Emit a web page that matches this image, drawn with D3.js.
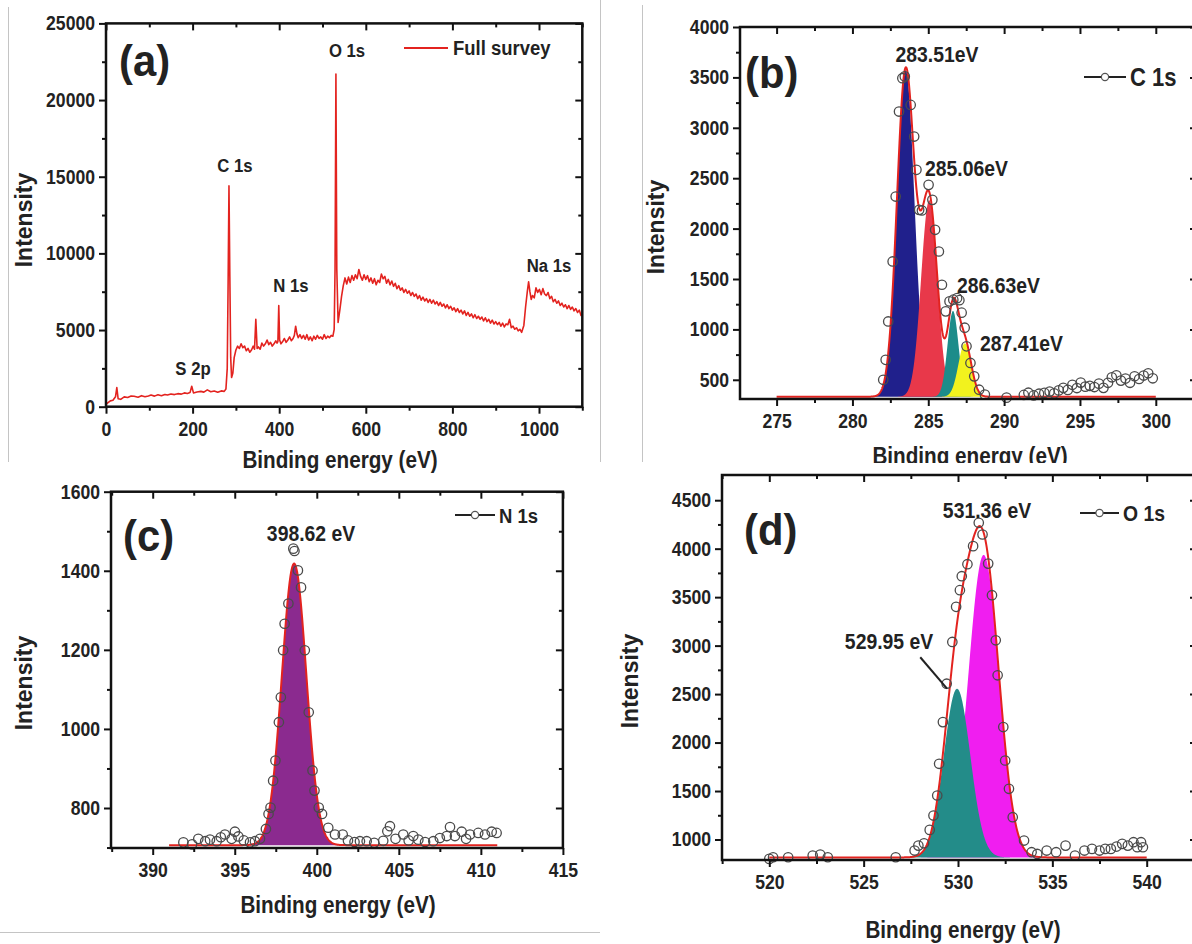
<!DOCTYPE html>
<html>
<head>
<meta charset="utf-8">
<script src="https://cdn.jsdelivr.net/npm/d3@7"></script>
<style>
  html, body { margin: 0; padding: 0; background: #fff; }
  svg { display: block; }
</style>
</head>
<body>
<svg id="fig" width="1192" height="944"></svg>
<script>
// ---------------- (a) full XPS survey ----------------
const surveyEnergy = [0, 4, 10, 16, 22, 25, 28, 34, 42, 50, 58, 65, 74, 82, 90, 98, 104, 112, 120, 128, 136, 142, 150, 158, 166, 174, 181, 188, 194, 198, 202, 210, 219, 226, 234, 242, 250, 258, 266, 273, 277, 280, 282, 284, 286, 288, 290, 293,
  296, 300, 304, 308, 312, 316, 320, 324, 328, 332, 336, 340, 343, 346, 349, 352, 356, 360, 364, 368, 372, 376, 380, 384, 388, 392, 395, 397, 399, 401, 404, 408, 412, 416, 420, 424, 428, 432, 435, 438, 441, 444, 448, 452, 456, 460, 464, 468, 472, 476, 480, 484, 488, 492, 496, 500, 504, 508, 512, 516, 520, 524, 527, 529, 531, 533, 536,
  540, 544, 548, 552, 556, 560, 564, 568, 572, 576, 580, 584, 588, 592, 596, 600, 604, 608, 612, 616, 620, 624, 628, 632, 636, 640, 644, 648, 652, 656, 660, 664, 668, 672, 676, 680, 684, 688, 692, 696, 700, 704, 708, 712, 716, 720, 724, 728, 732, 736, 740, 744, 748, 752, 756, 760, 764, 768, 772, 776, 780, 784, 788, 792, 796, 800, 804, 808, 812, 816, 820, 824, 828, 832, 836, 840, 844, 848, 852, 856, 860, 864, 868, 872, 876, 880, 884, 888, 892, 896, 900, 904, 908, 912, 916, 920, 924, 928, 932, 936, 940, 944, 948, 952, 956, 960,
  965, 969, 973, 976, 979, 982, 985, 989, 993, 997, 1001, 1005, 1009, 1013, 1017, 1021, 1025, 1029, 1033, 1037, 1041, 1045, 1049, 1053, 1057, 1061, 1065, 1069, 1073, 1077, 1081, 1085, 1089, 1093, 1097, 1100];
const surveyCounts = [150, 250, 380, 420, 650, 1250, 520, 480, 640, 600, 700, 680, 620, 720, 650, 700, 760, 690, 780, 720, 800, 760, 830, 790, 850, 820, 900, 860, 920, 1330, 900, 960, 1000, 950, 1100, 980, 1020, 940, 1030, 1000, 1150, 2500, 8000, 14400, 8500, 3200, 1900, 2200,
  3200, 3700, 3950, 3800, 4100, 3850, 3950, 3650, 3800, 3550, 3700, 3950, 3750, 5700, 3800, 3900, 3750, 4150, 3950, 4100, 4350, 4050, 4200, 3950, 4100, 4300, 4150, 4250, 6600, 4350, 4100, 4250, 4450, 4200, 4350, 4550, 4300, 4450, 4650, 5250, 4750, 4500, 4700, 4450, 4650, 4400, 4700, 4350, 4550, 4300, 4600, 4400, 4650, 4450, 4550, 4400, 4700, 4450, 4600, 4500, 4650, 4600, 5050, 9000, 21700, 9000, 5500,
  6300, 7200, 7900, 8400, 8000, 8450, 8100, 8550, 8250, 8600, 8350, 8950, 8500, 8250, 8600, 8300, 8550, 8150, 8400, 8050, 8350, 7950, 8250, 8100, 8650, 8350, 8500, 8050, 8300, 7950, 8200, 7850, 8050, 7700, 7900, 7600, 7750, 7450, 7650, 7400, 7550, 7250, 7450, 7200, 7350, 7050, 7250, 6950, 7150, 6900, 7050, 6800, 7000, 6750, 6950, 6700, 6850, 6600, 6800, 6550, 6700, 6450, 6650, 6400, 6550, 6300, 6450, 6200, 6400, 6150, 6300, 6050, 6250, 5950, 6150, 5900, 6050, 5800, 6000, 5750, 5900, 5700, 5850, 5600, 5800, 5550, 5700, 5450, 5650, 5400, 5550, 5350, 5500, 5250, 5450, 5200, 5400, 5350, 5700, 5150, 5250, 5050, 5150, 4950, 5050, 4850,
  5300, 6500, 7500, 8150, 7500, 7000, 7250, 7100, 7750, 7450, 7650, 7300, 7700, 7350, 7250, 7450, 7050, 7200, 6850, 7000, 6750, 6900, 6600, 6750, 6500, 6650, 6400, 6600, 6350, 6500, 6250, 6400, 6150, 6300, 5950, 6050];
const surveyPeakNames = ["S 2p", "C 1s", "N 1s", "O 1s", "Na 1s"];
const surveyXTicks = [0, 200, 400, 600, 800, 1000];
const surveyXMinor = [100, 300, 500, 700, 900, 1100];
const surveyYTicks = [0, 5000, 10000, 15000, 20000, 25000];
const surveyYMinor = [2500, 7500, 12500, 17500, 22500];

// ---------------- (b) C 1s high resolution ----------------
const c1sEnergy = [282.03, 282.19, 282.36, 282.65, 282.85, 283.07, 283.29, 283.45, 283.84, 284.07, 284.22, 284.40, 284.58, 285.02, 285.27, 285.45, 285.70, 285.90, 286.15, 286.40, 286.65, 286.90, 287.05, 287.20, 287.40, 287.52, 287.78, 288.03, 288.35, 288.73, 290.16, 291.30, 291.60, 291.95, 292.30, 292.65, 293.00, 293.30, 293.60, 293.90, 294.20, 294.50, 294.80, 295.05, 295.35, 295.65, 295.95, 296.25, 296.55, 296.85, 297.10, 297.40, 297.70, 298.00, 298.30, 298.60, 298.90, 299.20, 299.50, 299.80];
const c1sCounts = [500, 698, 1079, 1674, 2318, 3161, 3492, 3510, 3227, 2913, 2583, 2186, 2180, 2434, 2285, 1988, 1773, 1443, 1179, 1278, 1295, 1310, 1290, 1166, 1017, 832, 667, 534, 402, 353, 323, 350, 372, 345, 362, 370, 383, 365, 395, 420, 400, 450, 418, 472, 432, 440, 428, 462, 420, 470, 525, 545, 492, 512, 470, 535, 508, 542, 565, 515];
// fitted components: centre (eV), height above background, FWHM (eV)
const c1sPeakCenter = [283.51, 285.06, 286.63, 287.41];
const c1sPeakHeight = [3240, 1950, 850, 530];
const c1sPeakFwhm = [1.35, 1.25, 0.85, 1.0];
const c1sBackground = 332;
const c1sFitRange = [275, 300];
const c1sXTicks = [275, 280, 285, 290, 295, 300];
const c1sXMinor = [272.5, 277.5, 282.5, 287.5, 292.5, 297.5, 302.5];
const c1sYTicks = [500, 1000, 1500, 2000, 2500, 3000, 3500, 4000];
const c1sYMinor = [750, 1250, 1750, 2250, 2750, 3250, 3750];

// ---------------- (c) N 1s high resolution ----------------
const n1sEnergy = [391.87, 392.40, 392.78, 393.20, 393.49, 393.90, 394.15, 394.40, 394.81, 395.01, 395.22, 395.55, 395.93, 396.23, 396.54, 396.90, 397.06, 397.18, 397.34, 397.48, 397.69, 397.81, 397.95, 398.04, 398.27, 398.57, 398.64, 398.85, 399.04, 399.27, 399.51, 399.74, 399.86, 400.12, 400.32, 400.70, 401.11, 401.58, 401.90, 402.30, 402.63, 403.04, 403.50, 404.05, 404.30, 404.46, 404.80, 405.27, 405.60, 405.88, 406.19, 406.60, 407.10, 407.50, 407.92, 408.12, 408.42, 408.83, 409.10, 409.34, 409.84, 410.25, 410.66, 410.96];
const n1sCounts = [713, 708, 722, 716, 720, 716, 726, 733, 722, 740, 728, 718, 713, 716, 722, 747, 785, 801, 869, 920, 1017, 1080, 1199, 1266, 1317, 1456, 1450, 1401, 1358, 1199, 1042, 895, 844, 801, 785, 750, 733, 733, 718, 714, 716, 716, 712, 717, 741, 754, 722, 733, 718, 729, 720, 714, 716, 724, 729, 752, 729, 740, 722, 733, 737, 733, 740, 737];
const n1sPeakCenter = [398.62];
const n1sPeakHeight = [712];
const n1sPeakFwhm = [1.75];
const n1sBackground = 706;
const n1sFitRange = [391, 411];
const n1sXTicks = [390, 395, 400, 405, 410, 415];
const n1sXMinor = [387.5, 392.5, 397.5, 402.5, 407.5, 412.5];
const n1sYTicks = [800, 1000, 1200, 1400, 1600];
const n1sYMinor = [700, 900, 1100, 1300, 1500];

// ---------------- (d) O 1s high resolution ----------------
const o1sEnergy = [520.0, 520.2, 521.0, 522.3, 522.7, 523.1, 526.7, 527.7, 527.9, 528.2, 528.5, 528.7, 528.9, 529.0, 529.2, 529.4, 529.7, 529.9, 530.1, 530.2, 530.5, 530.8, 531.1, 531.3, 531.6, 531.8, 532.0, 532.1, 532.4, 532.5, 532.7, 532.9, 533.5, 533.9, 534.2, 534.7, 535.2, 535.7, 536.2, 536.7, 537.1, 537.5, 537.8, 538.1, 538.4, 538.7, 539.0, 539.3, 539.5, 539.7, 539.8];
const o1sCounts = [800, 817, 817, 834, 845, 817, 817, 886, 937, 961, 1099, 1247, 1454, 1781, 2211, 2607, 3038, 3400, 3572, 3716, 3840, 4026, 4267, 4146, 3846, 3520, 3055, 2694, 2160, 1815, 1523, 1230, 989, 869, 851, 886, 869, 937, 834, 886, 903, 886, 903, 903, 927, 955, 937, 972, 920, 972, 920];
const o1sPeakCenter = [531.36, 529.95];
const o1sPeakHeight = [3120, 1740];
const o1sPeakFwhm = [1.9, 1.65];
const o1sBackground = 815;
const o1sFitRange = [520, 540];
const o1sXTicks = [520, 525, 530, 535, 540];
const o1sXMinor = [517.5, 522.5, 527.5, 532.5, 537.5, 542.5];
const o1sYTicks = [1000, 1500, 2000, 2500, 3000, 3500, 4000, 4500];
const o1sYMinor = [1250, 1750, 2250, 2750, 3250, 3750, 4250];

// ---------------- styling ----------------
const FONT = '"Liberation Sans", Arial, Helvetica, sans-serif';
const INK = "#222";
const SX = 0.88; // horizontal squeeze of the lettering
const FIT_RED = "#e3231f";
const C1S_FILL = ["#20208c", "#e8384a", "#1d8c8a", "#f2f21e"];
const N1S_FILL = ["#8b2a8f"];
const O1S_FILL = ["#f01ef0", "#238c89"];

const svg = d3.select("#fig");

function addText(g, x, y, str, size, anchor, sx) {
  return g.append("text")
    .attr("transform", `translate(${x},${y}) scale(${sx || SX},1)`)
    .attr("text-anchor", anchor || "start")
    .attr("font-family", FONT).attr("font-weight", "bold")
    .attr("font-size", size).attr("fill", INK)
    .text(str);
}

function addYTitle(g, x, y, str) {
  g.append("text")
    .attr("transform", `translate(${x},${y}) rotate(-90)`)
    .attr("text-anchor", "middle")
    .attr("font-family", FONT).attr("font-weight", "bold")
    .attr("font-size", 23).attr("fill", INK)
    .text(str);
}

// Origin-style frame: labelled ticks outward on bottom/left, mirrored inward on top/right
function drawFrame(g, box, x, y, t) {
  const inX = v => x(v) >= box.L - 0.5 && x(v) <= box.R + 0.5;
  const inY = v => y(v) <= box.B + 0.5 && y(v) >= box.T - 0.5;
  const xMaj = t.xMajor.filter(inX), xMin = t.xMinor.filter(inX);
  const yMaj = t.yMajor.filter(inY), yMin = t.yMinor.filter(inY);
  const put = (axis, tr) => {
    const a = g.append("g").attr("transform", tr).call(axis);
    a.select(".domain").remove();
    a.selectAll("line").attr("stroke", "#111").attr("stroke-width", 2);
    return a;
  };
  const fmt = d3.format("d");
  put(d3.axisBottom(x).tickValues(xMin).tickSize(4).tickFormat(""), `translate(0,${box.B})`);
  const bx = put(d3.axisBottom(x).tickValues(xMaj).tickSize(7).tickPadding(8).tickFormat(fmt), `translate(0,${box.B})`);
  put(d3.axisBottom(x).tickValues(xMin).tickSize(4).tickFormat(""), `translate(0,${box.T})`);
  put(d3.axisBottom(x).tickValues(xMaj).tickSize(7).tickFormat(""), `translate(0,${box.T})`);
  put(d3.axisLeft(y).tickValues(yMin).tickSize(4).tickFormat(""), `translate(${box.L},0)`);
  const ly = put(d3.axisLeft(y).tickValues(yMaj).tickSize(7).tickPadding(4).tickFormat(fmt), `translate(${box.L},0)`);
  put(d3.axisLeft(y).tickValues(yMin).tickSize(4).tickFormat(""), `translate(${box.R},0)`);
  put(d3.axisLeft(y).tickValues(yMaj).tickSize(7).tickFormat(""), `translate(${box.R},0)`);
  [bx, ly].forEach(a => a.selectAll("text")
    .attr("font-family", FONT).attr("font-weight", "bold")
    .attr("font-size", 20).attr("fill", INK));
  bx.selectAll("text").attr("transform", `scale(${SX},1)`);
  ly.selectAll("text").attr("x", -11 / SX).attr("transform", `scale(${SX},1)`);
  g.append("rect")
    .attr("x", box.L).attr("y", box.T)
    .attr("width", box.R - box.L).attr("height", box.B - box.T)
    .attr("fill", "none").attr("stroke", "#111").attr("stroke-width", 2.5);
}

// Gaussian line shape of a fitted component
function gauss(e, c, h, w) {
  const s = w / 2.3548;
  return h * Math.exp(-0.5 * ((e - c) / s) ** 2);
}

function drawFit(g, x, y, centers, heights, fwhms, bg, range, fills) {
  const grid = d3.range(range[0], range[1] + 1e-9, 0.02);
  centers.forEach((c, i) => {
    const area = d3.area()
      .x(e => x(e))
      .y0(y(bg))
      .y1(e => y(bg + gauss(e, c, heights[i], fwhms[i])));
    g.append("path").datum(grid).attr("d", area).attr("fill", fills[i]).attr("stroke", "none");
  });
  const env = d3.line()
    .x(e => x(e))
    .y(e => y(bg + d3.sum(centers, (c, i) => gauss(e, c, heights[i], fwhms[i]))));
  return g.append("path").datum(grid).attr("d", env)
    .attr("fill", "none").attr("stroke", FIT_RED).attr("stroke-width", 2);
}

function drawPoints(g, x, y, energy, counts) {
  g.append("g").selectAll("circle")
    .data(d3.zip(energy, counts))
    .join("circle")
    .attr("cx", d => x(d[0])).attr("cy", d => y(d[1]))
    .attr("r", 4.7)
    .attr("fill", "none").attr("stroke", "#4a4a4a").attr("stroke-width", 1.3);
}

function drawLegendSymbol(g, x0, x1, yy, label, size) {
  g.append("line").attr("x1", x0).attr("x2", x1).attr("y1", yy).attr("y2", yy)
    .attr("stroke", "#222").attr("stroke-width", 2);
  g.append("circle").attr("cx", (x0 + x1) / 2).attr("cy", yy).attr("r", 3.6)
    .attr("fill", "#fff").attr("stroke", "#555").attr("stroke-width", 1.2);
  addText(g, x1 + 4, yy + size * 0.36, label, size, "start");
}

// thin borders of the separate image tiles
const borders = svg.append("g").attr("stroke", "#c4c4c4").attr("stroke-width", 1);
borders.append("line").attr("x1", 8.5).attr("x2", 8.5).attr("y1", 7).attr("y2", 462);
borders.append("line").attr("x1", 600.5).attr("x2", 600.5).attr("y1", 0).attr("y2", 462);
borders.append("line").attr("x1", 642.5).attr("x2", 642.5).attr("y1", 5).attr("y2", 462);
borders.append("line").attr("x1", 0).attr("x2", 600).attr("y1", 932.5).attr("y2", 932.5);

// ================= panel (a) =================
{
  const g = svg.append("g");
  const box = { L: 106, R: 582.3, T: 23.4, B: 406.7 };
  const x = d3.scaleLinear().domain([0, 1100]).range([box.L, box.R]);
  const y = d3.scaleLinear().domain([0, 25000]).range([box.B, box.T]);
  const line = d3.line().x(d => x(d[0])).y(d => y(d[1]));
  g.append("path").datum(d3.zip(surveyEnergy, surveyCounts)).attr("d", line)
    .attr("fill", "none").attr("stroke", FIT_RED).attr("stroke-width", 1.6)
    .attr("stroke-linejoin", "round");
  drawFrame(g, box, x, y, { xMajor: surveyXTicks, xMinor: surveyXMinor, yMajor: surveyYTicks, yMinor: surveyYMinor });
  addText(g, 119, 76, "(a)", 44, "start", 0.95);
  // peak assignments
  const lab = [[193, 375], [235, 172], [291, 292], [347, 57], [549, 272]];
  surveyPeakNames.forEach((n, i) => addText(g, lab[i][0], lab[i][1], n, 19, "middle"));
  g.append("line").attr("x1", 404).attr("x2", 448).attr("y1", 48).attr("y2", 48)
    .attr("stroke", FIT_RED).attr("stroke-width", 2);
  addText(g, 453, 55, "Full survey", 21, "start");
  addText(g, 340, 468, "Binding energy (eV)", 23.5, "middle");
  addYTitle(g, 32, 220, "Intensity");
}

// ================= panel (b) =================
{
  const g = svg.append("g");
  const box = { L: 740, R: 1197, T: 27, B: 399 };
  const x = d3.scaleLinear().domain([275, 300]).range([776.6, 1155.8]);
  const y = d3.scaleLinear().domain([500, 4000]).range([379.8, 27]);
  drawFit(g, x, y, c1sPeakCenter, c1sPeakHeight, c1sPeakFwhm, c1sBackground, c1sFitRange, C1S_FILL);
  drawPoints(g, x, y, c1sEnergy, c1sCounts);
  drawFrame(g, box, x, y, { xMajor: c1sXTicks, xMinor: c1sXMinor, yMajor: c1sYTicks, yMinor: c1sYMinor });
  addText(g, 745, 88, "(b)", 44, "start", 0.95);
  addText(g, 937, 62, "283.51eV", 22, "middle");
  addText(g, 925, 176, "285.06eV", 22, "start");
  addText(g, 957, 293, "286.63eV", 22, "start");
  addText(g, 980, 351, "287.41eV", 22, "start");
  drawLegendSymbol(g, 1084, 1126, 77, "C 1s", 25);
  addText(g, 970, 464, "Binding energy (eV)", 23.5, "middle");
  addYTitle(g, 664, 227, "Intensity");
}

// the lower-right tile sits over the foot of panel (b)
svg.append("rect").attr("x", 601).attr("y", 463).attr("width", 591).attr("height", 481).attr("fill", "#fff");

// ================= panel (c) =================
{
  const g = svg.append("g");
  const box = { L: 111, R: 562.9, T: 491.7, B: 848 };
  const x = d3.scaleLinear().domain([390, 415]).range([152.7, 562.9]);
  const y = d3.scaleLinear().domain([800, 1600]).range([808, 491.7]);
  drawFit(g, x, y, n1sPeakCenter, n1sPeakHeight, n1sPeakFwhm, n1sBackground, n1sFitRange, N1S_FILL);
  drawPoints(g, x, y, n1sEnergy, n1sCounts);
  drawFrame(g, box, x, y, { xMajor: n1sXTicks, xMinor: n1sXMinor, yMajor: n1sYTicks, yMinor: n1sYMinor });
  addText(g, 123, 551, "(c)", 44, "start", 0.95);
  addText(g, 311, 541, "398.62 eV", 22, "middle");
  drawLegendSymbol(g, 455, 495, 515, "N 1s", 21);
  addText(g, 338, 913, "Binding energy (eV)", 23.5, "middle");
  addYTitle(g, 32, 683, "Intensity");
}

// ================= panel (d) =================
{
  const g = svg.append("g");
  const box = { L: 722, R: 1197, T: 475, B: 860 };
  const x = d3.scaleLinear().domain([520, 540]).range([769.3, 1146.7]);
  const y = d3.scaleLinear().domain([1000, 4500]).range([839.5, 500.2]);
  drawFit(g, x, y, o1sPeakCenter, o1sPeakHeight, o1sPeakFwhm, o1sBackground, o1sFitRange, O1S_FILL);
  drawPoints(g, x, y, o1sEnergy, o1sCounts);
  drawFrame(g, box, x, y, { xMajor: o1sXTicks, xMinor: o1sXMinor, yMajor: o1sYTicks, yMinor: o1sYMinor });
  addText(g, 744, 545, "(d)", 44, "start", 0.95);
  addText(g, 987, 518, "531.36 eV", 22, "middle");
  addText(g, 889, 649, "529.95 eV", 22, "middle");
  // pointer to the 529.95 eV component
  g.append("line")
    .attr("x1", x(528.0)).attr("y1", y(2880))
    .attr("x2", x(529.42)).attr("y2", y(2556))
    .attr("stroke", "#222").attr("stroke-width", 2);
  drawLegendSymbol(g, 1080, 1119, 513, "O 1s", 22);
  addText(g, 963, 938, "Binding energy (eV)", 23.5, "middle");
  addYTitle(g, 638, 681, "Intensity");
}
</script>
</body>
</html>
